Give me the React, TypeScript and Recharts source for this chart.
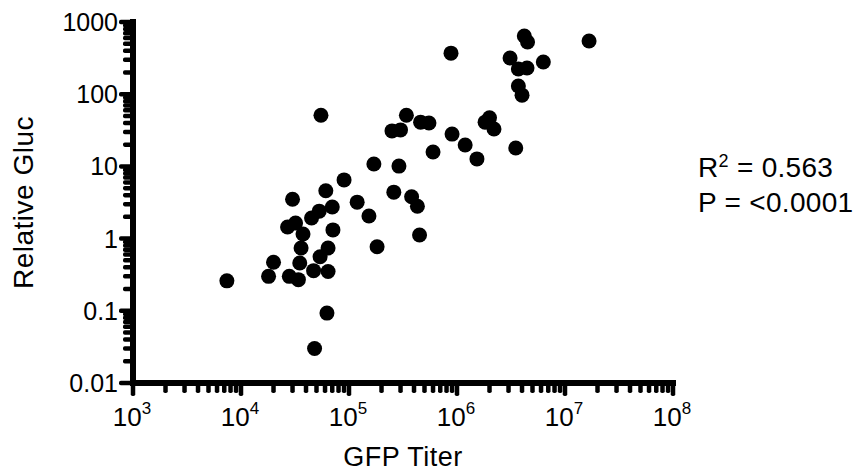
import React from "react";
import { Scatter, ScatterChart, XAxis, YAxis } from "recharts";

// GFP titer (x) and relative Gluc (y), one entry per sample
const gfpTiter = [
  7.4e3, 1.8e4, 2.0e4, 2.8e4, 3.4e4, 3.5e4, 3.6e4, 4.7e4, 6.4e4, 5.4e4,
  6.4e4, 7.1e4, 2.7e4, 3.2e4, 3.75e4, 3.0e4, 4.5e4, 5.3e4, 7.0e4, 6.1e4,
  9.0e4, 6.25e4, 4.8e4, 5.5e4, 1.19e5, 1.53e5, 1.82e5, 1.7e5, 2.9e5, 2.6e5,
  3.8e5, 4.3e5, 4.5e5, 2.5e5, 3.0e5, 3.4e5, 4.6e5, 5.5e5, 6.0e5, 9.0e5,
  1.19e6, 1.53e6, 8.8e5, 1.82e6, 2.0e6, 2.2e6, 3.5e6, 3.1e6, 3.7e6, 4.45e6,
  6.3e6, 3.7e6, 4.0e6, 4.2e6, 4.5e6, 1.67e7,
];

const relativeGluc = [
  0.26, 0.3, 0.47, 0.3, 0.27, 0.46, 0.74, 0.36, 0.35, 0.56,
  0.74, 1.32, 1.45, 1.64, 1.16, 3.5, 1.93, 2.4, 2.74, 4.6,
  6.5, 0.093, 0.03, 51, 3.2, 2.06, 0.77, 10.8, 10.1, 4.4,
  3.8, 2.8, 1.12, 31, 32, 51, 41, 40, 15.8, 28,
  19.8, 12.7, 370, 41, 47, 33, 18, 317, 223, 231,
  279, 130, 97, 640, 528, 545,
];

const xDecades = [1e3, 1e4, 1e5, 1e6, 1e7, 1e8];
const yDecades = [0.01, 0.1, 1, 10, 100, 1000];
const yDecadeLabels = ["0.01", "0.1", "1", "10", "100", "1000"];
const minorSteps = [2, 3, 4, 5, 6, 7, 8, 9];

const withMinors = (decades: number[]) => {
  const out: number[] = [];
  decades.forEach((d, i) => {
    out.push(d);
    if (i < decades.length - 1) minorSteps.forEach((m) => out.push(d * m));
  });
  return out;
};

const xTicks = withMinors(xDecades);
const yTicks = withMinors(yDecades);

const points = gfpTiter.map((x, i) => ({ x, y: relativeGluc[i] }));

const FONT = "'Liberation Sans', Arial, Helvetica, sans-serif";

const isMajor = (v: number) => {
  const l = Math.log10(v);
  return Math.abs(l - Math.round(l)) < 1e-9;
};

// heavy GraphPad-style axis bars are drawn from the first tick of each axis
const X_AXIS_LEN = 540;
const Y_AXIS_LEN = 361;
const BAR = 6;
const TICK_W = 4.5;

const XTick = (props: any) => {
  const { x, y, payload, index } = props;
  const v = payload.value;
  const major = isMajor(v);
  const exp = Math.round(Math.log10(v));
  const len = major ? 13 : 10;
  return (
    <g>
      {index === 0 && (
        <rect x={x - BAR / 2} y={y - BAR / 2} width={X_AXIS_LEN + BAR} height={BAR} fill="#000" />
      )}
      <rect x={x - TICK_W / 2} y={y} width={TICK_W} height={len} rx={1.8} fill="#000" />
      {major && (
        <text x={x - 1} y={y + 43} textAnchor="middle" fontFamily={FONT} fontSize={26} fill="#000" stroke="none">
          <tspan>10</tspan>
          <tspan dy={-12} fontSize={17}>{exp}</tspan>
        </text>
      )}
    </g>
  );
};

const YTick = (props: any) => {
  const { x, y, payload, index } = props;
  const v = payload.value;
  const major = isMajor(v);
  const idx = yDecades.findIndex((d) => Math.abs(Math.log10(d) - Math.log10(v)) < 1e-9);
  const len = major ? 14 : 10;
  return (
    <g>
      {index === 0 && (
        <rect x={x - BAR / 2} y={y - Y_AXIS_LEN - BAR / 2} width={BAR} height={Y_AXIS_LEN + BAR} fill="#000" />
      )}
      <rect x={x - len} y={y - TICK_W / 2} width={len} height={TICK_W} rx={1.8} fill="#000" />
      {major && (
        <text x={x - 15} y={y + 9} textAnchor="end" fontFamily={FONT} fontSize={25} fill="#000" stroke="none">
          {yDecadeLabels[idx]}
        </text>
      )}
    </g>
  );
};

const Dot = (props: any) => <circle cx={props.cx} cy={props.cy} r={7.5} fill="#000" />;

export default function App() {
  return (
    <div style={{ position: "absolute", left: 0, top: 0, width: 856, height: 475, background: "#fff" }}>
      <ScatterChart width={856} height={475} margin={{ top: 22, right: 183, bottom: 0, left: 0 }}>
        <XAxis
          type="number"
          dataKey="x"
          scale="log"
          domain={[1e3, 1e8]}
          ticks={xTicks}
          interval={0}
          height={92}
          tickSize={0}
          tickMargin={0}
          tickLine={false}
          tick={<XTick />}
          axisLine={false}
          allowDataOverflow
          label={{
            content: (p: any) => (
              <text
                x={p.viewBox.x + p.viewBox.width / 2}
                y={p.viewBox.y + 83}
                textAnchor="middle"
                fontFamily={FONT}
                fontSize={27}
                letterSpacing={0.5}
                fill="#000"
              >
                GFP Titer
              </text>
            ),
          }}
        />
        <YAxis
          type="number"
          dataKey="y"
          scale="log"
          domain={[0.01, 1000]}
          ticks={yTicks}
          interval={0}
          width={133}
          tickSize={0}
          tickMargin={0}
          tickLine={false}
          tick={<YTick />}
          axisLine={false}
          allowDataOverflow
          label={{
            content: (p: any) => {
              const cx = p.viewBox.x + 33;
              const cy = p.viewBox.y + p.viewBox.height / 2;
              return (
                <text
                  x={cx}
                  y={cy}
                  transform={`rotate(-90 ${cx} ${cy})`}
                  textAnchor="middle"
                  fontFamily={FONT}
                  fontSize={28}
                  letterSpacing={0.5}
                  fill="#000"
                >
                  Relative Gluc
                </text>
              );
            },
          }}
        />
        <Scatter data={points} shape={<Dot />} isAnimationActive={false} />
      </ScatterChart>
      <div
        style={{
          position: "absolute",
          left: 698,
          top: 150,
          fontFamily: FONT,
          fontSize: 28,
          letterSpacing: 0.3,
          lineHeight: "35px",
          color: "#000",
          whiteSpace: "nowrap",
        }}
      >
        <div>
          R<sup style={{ fontSize: 18, verticalAlign: "top", lineHeight: "22px" }}>2</sup> = 0.563
        </div>
        <div>P = &lt;0.0001</div>
      </div>
    </div>
  );
}
